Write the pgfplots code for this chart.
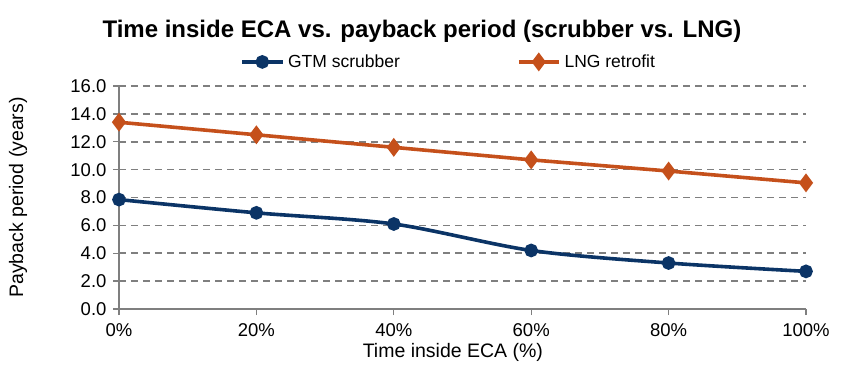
\documentclass[border=0pt]{standalone}
\usepackage{fontspec}
\setmainfont{Liberation Sans}
\usepackage{pgfplots}
\pgfplotsset{compat=1.18}
\definecolor{gtm}{HTML}{0B3466}
\definecolor{lng}{HTML}{C5501B}
\definecolor{gridc}{HTML}{7F7F7F}
\begin{document}
\begin{tikzpicture}[x=1pt,y=1pt]
\useasboundingbox (-119,-67) rectangle (731,309);
\begin{axis}[
  at={(0,0)}, anchor=south west,
  scale only axis, width=687pt, height=223pt,
  xmin=0, xmax=100, ymin=0, ymax=16,
  xtick={0,20,40,60,80,100},
  xticklabel={\pgfmathprintnumber{\tick}\%},
  ytick={0,2,4,6,8,10,12,14,16},
  yticklabel style={xshift=-3pt, /pgf/number format/.cd,fixed,fixed zerofill,precision=1},
  /pgf/number format/assume math mode=true,
  axis lines*=left,
  axis line style={gridc, line width=1.5pt},
  tick align=outside, major tick length=6pt,
  tick style={gridc, line width=1.3pt},
  ymajorgrids,
  major grid style={gridc, line width=1.7pt, dash pattern=on 7pt off 5pt},
  tick label style={font=\fontsize{18.5}{21}\selectfont},
  xticklabel style={yshift=-5pt},
  xlabel={Time inside ECA (\%)},
  ylabel={Payback period (years)},
  label style={font=\fontsize{19.5}{22}\selectfont},
  xlabel style={at={(axis description cs:0.486,-0.197)}, anchor=center},
  ylabel style={at={(axis description cs:-0.147,0.5)}, anchor=center},
  legend columns=2,
  legend style={draw=none, fill=none, at={(0.48,1.108)}, anchor=center,
    font=\fontsize{17.5}{20}\selectfont,
    /tikz/every odd column/.append style={column sep=2pt},
    /tikz/every even column/.append style={column sep=115pt}},
  legend image code/.code={\draw[mark repeat=2,mark phase=2,#1] plot coordinates {(0pt,0pt) (20pt,0pt) (40pt,0pt)};},
  clip=false,
]
\addplot[gtm, line width=3.6pt, smooth, tension=0.5, mark=*, mark size=5pt, mark options={solid}]
  coordinates {(0,7.85) (20,6.9) (40,6.1) (60,4.2) (80,3.3) (100,2.7)};
\addlegendentry{GTM scrubber}
\addplot[lng, line width=3.6pt, mark=diamond*, mark size=6.5pt, mark options={solid}]
  coordinates {(0,13.4) (20,12.5) (40,11.6) (60,10.7) (80,9.9) (100,9.05)};
\addlegendentry{LNG retrofit}
\end{axis}
\node[font=\bfseries\fontsize{24}{28}\selectfont] at (303,278) {Time inside ECA vs. payback period (scrubber vs. LNG)};
\end{tikzpicture}
\end{document}
